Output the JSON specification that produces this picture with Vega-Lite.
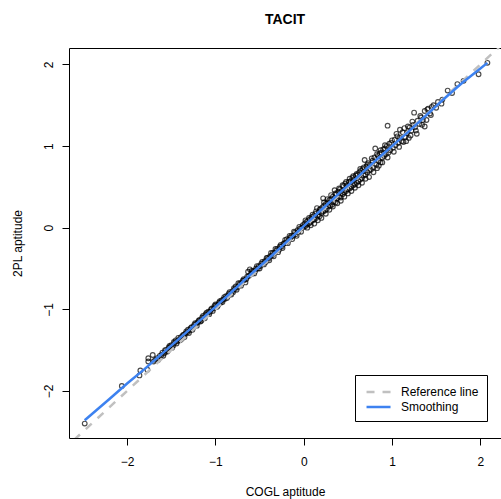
{
  "$schema": "https://vega.github.io/schema/vega-lite/v6.json",
  "autosize": "none",
  "width": 432,
  "height": 390,
  "padding": {"left": 69, "top": 48, "right": 0, "bottom": 61},
  "background": "white",
  "config": {
    "view": {"stroke": null},
    "font": "Liberation Sans",
    "axis": {"grid": false, "domainColor": "black", "tickColor": "black", "labelColor": "black", "titleColor": "black", "labelFont": "Liberation Sans", "titleFont": "Liberation Sans", "labelFontSize": 12, "titleFontSize": 12, "titleFontWeight": "normal"},
    "legend": {"strokeColor": "black"}
  },
  "title": {"text": "TACIT", "frame": "group", "anchor": "middle", "font": "Liberation Sans", "fontSize": 14, "fontWeight": "bold", "color": "black", "baseline": "alphabetic", "offset": 10.5},
  "datasets": {
    "pts": [
      {"x": -2.48, "y": -2.40}, {"x": -2.06, "y": -1.94}, {"x": -1.86, "y": -1.81}, {"x": -1.85, "y": -1.75}, {"x": -1.77, "y": -1.74}, {"x": -1.76, "y": -1.64}, {"x": -1.76, "y": -1.60}, {"x": -1.71, "y": -1.56},
      {"x": -1.70, "y": -1.64}, {"x": -1.68, "y": -1.62}, {"x": -1.66, "y": -1.60}, {"x": -1.65, "y": -1.62}, {"x": -1.63, "y": -1.57}, {"x": -1.61, "y": -1.56}, {"x": -1.60, "y": -1.53}, {"x": -1.58, "y": -1.54},
      {"x": -1.56, "y": -1.50}, {"x": -1.55, "y": -1.52}, {"x": -1.53, "y": -1.47}, {"x": -1.51, "y": -1.46}, {"x": -1.50, "y": -1.44}, {"x": -1.48, "y": -1.45}, {"x": -1.46, "y": -1.41}, {"x": -1.45, "y": -1.38},
      {"x": -1.43, "y": -1.39}, {"x": -1.41, "y": -1.37}, {"x": -1.39, "y": -1.34}, {"x": -1.38, "y": -1.36}, {"x": -1.36, "y": -1.31}, {"x": -1.34, "y": -1.30}, {"x": -1.32, "y": -1.28}, {"x": -1.31, "y": -1.25},
      {"x": -1.29, "y": -1.26}, {"x": -1.27, "y": -1.22}, {"x": -1.25, "y": -1.22}, {"x": -1.24, "y": -1.19}, {"x": -1.22, "y": -1.18}, {"x": -1.20, "y": -1.16}, {"x": -1.18, "y": -1.13}, {"x": -1.17, "y": -1.15},
      {"x": -1.15, "y": -1.10}, {"x": -1.13, "y": -1.10}, {"x": -1.11, "y": -1.06}, {"x": -1.09, "y": -1.06}, {"x": -1.08, "y": -1.03}, {"x": -1.06, "y": -1.03}, {"x": -1.04, "y": -0.99}, {"x": -1.02, "y": -0.99},
      {"x": -1.01, "y": -0.96}, {"x": -0.99, "y": -0.95}, {"x": -0.97, "y": -0.95}, {"x": -0.96, "y": -0.92}, {"x": -0.94, "y": -0.92}, {"x": -0.93, "y": -0.89}, {"x": -0.91, "y": -0.88}, {"x": -0.89, "y": -0.87},
      {"x": -0.88, "y": -0.84}, {"x": -0.86, "y": -0.84}, {"x": -0.85, "y": -0.81}, {"x": -0.83, "y": -0.81}, {"x": -0.81, "y": -0.78}, {"x": -0.80, "y": -0.79}, {"x": -0.78, "y": -0.75}, {"x": -0.77, "y": -0.72},
      {"x": -0.75, "y": -0.73}, {"x": -0.73, "y": -0.70}, {"x": -0.72, "y": -0.68}, {"x": -0.70, "y": -0.68}, {"x": -0.69, "y": -0.65}, {"x": -0.67, "y": -0.64}, {"x": -0.65, "y": -0.63}, {"x": -0.64, "y": -0.60},
      {"x": -0.63, "y": -0.54}, {"x": -0.61, "y": -0.51}, {"x": -0.62, "y": -0.59}, {"x": -0.60, "y": -0.57}, {"x": -0.58, "y": -0.56}, {"x": -0.57, "y": -0.53}, {"x": -0.55, "y": -0.53}, {"x": -0.54, "y": -0.50},
      {"x": -0.52, "y": -0.50}, {"x": -0.51, "y": -0.47}, {"x": -0.49, "y": -0.47}, {"x": -0.48, "y": -0.44}, {"x": -0.46, "y": -0.44}, {"x": -0.44, "y": -0.41}, {"x": -0.43, "y": -0.42}, {"x": -0.41, "y": -0.37},
      {"x": -0.40, "y": -0.38}, {"x": -0.38, "y": -0.35}, {"x": -0.36, "y": -0.34}, {"x": -0.35, "y": -0.31}, {"x": -0.33, "y": -0.31}, {"x": -0.31, "y": -0.28}, {"x": -0.30, "y": -0.26}, {"x": -0.28, "y": -0.27},
      {"x": -0.27, "y": -0.23}, {"x": -0.25, "y": -0.23}, {"x": -0.23, "y": -0.20}, {"x": -0.22, "y": -0.19}, {"x": -0.20, "y": -0.18}, {"x": -0.19, "y": -0.14}, {"x": -0.17, "y": -0.15}, {"x": -0.15, "y": -0.12},
      {"x": -0.14, "y": -0.10}, {"x": -0.12, "y": -0.10}, {"x": -0.10, "y": -0.06}, {"x": -0.09, "y": -0.08}, {"x": -0.07, "y": -0.03}, {"x": -0.06, "y": -0.05}, {"x": -0.04, "y": -0.01}, {"x": -0.02, "y": 0.00},
      {"x": -0.01, "y": 0.03}, {"x": 0.00, "y": 0.01}, {"x": 0.01, "y": 0.05}, {"x": 0.02, "y": 0.02}, {"x": 0.03, "y": 0.07}, {"x": 0.04, "y": 0.04}, {"x": 0.05, "y": 0.09}, {"x": 0.06, "y": 0.05},
      {"x": 0.07, "y": 0.10}, {"x": 0.08, "y": 0.07}, {"x": 0.09, "y": 0.13}, {"x": 0.10, "y": 0.09}, {"x": 0.11, "y": 0.14}, {"x": 0.12, "y": 0.10}, {"x": 0.13, "y": 0.17}, {"x": 0.14, "y": 0.12},
      {"x": 0.15, "y": 0.24}, {"x": 0.16, "y": 0.15}, {"x": 0.17, "y": 0.19}, {"x": 0.18, "y": 0.14}, {"x": 0.19, "y": 0.23}, {"x": 0.20, "y": 0.18}, {"x": 0.21, "y": 0.25}, {"x": 0.22, "y": 0.36},
      {"x": 0.22, "y": 0.20}, {"x": 0.23, "y": 0.27}, {"x": 0.24, "y": 0.21}, {"x": 0.25, "y": 0.29}, {"x": 0.26, "y": 0.23}, {"x": 0.27, "y": 0.31}, {"x": 0.28, "y": 0.26}, {"x": 0.29, "y": 0.34},
      {"x": 0.30, "y": 0.27}, {"x": 0.31, "y": 0.35}, {"x": 0.32, "y": 0.28}, {"x": 0.33, "y": 0.38}, {"x": 0.34, "y": 0.32}, {"x": 0.35, "y": 0.46}, {"x": 0.35, "y": 0.36}, {"x": 0.36, "y": 0.31},
      {"x": 0.37, "y": 0.41}, {"x": 0.38, "y": 0.36}, {"x": 0.39, "y": 0.44}, {"x": 0.40, "y": 0.38}, {"x": 0.41, "y": 0.47}, {"x": 0.42, "y": 0.37}, {"x": 0.43, "y": 0.45}, {"x": 0.44, "y": 0.41},
      {"x": 0.45, "y": 0.51}, {"x": 0.46, "y": 0.43}, {"x": 0.47, "y": 0.54}, {"x": 0.48, "y": 0.45}, {"x": 0.49, "y": 0.52}, {"x": 0.50, "y": 0.47}, {"x": 0.51, "y": 0.56}, {"x": 0.52, "y": 0.48},
      {"x": 0.53, "y": 0.57}, {"x": 0.54, "y": 0.50}, {"x": 0.55, "y": 0.61}, {"x": 0.56, "y": 0.52}, {"x": 0.57, "y": 0.59}, {"x": 0.58, "y": 0.53}, {"x": 0.59, "y": 0.64}, {"x": 0.60, "y": 0.55},
      {"x": 0.61, "y": 0.65}, {"x": 0.62, "y": 0.57}, {"x": 0.63, "y": 0.68}, {"x": 0.64, "y": 0.59}, {"x": 0.65, "y": 0.70}, {"x": 0.66, "y": 0.61}, {"x": 0.67, "y": 0.72}, {"x": 0.68, "y": 0.64},
      {"x": 0.69, "y": 0.83}, {"x": 0.70, "y": 0.65}, {"x": 0.71, "y": 0.75}, {"x": 0.72, "y": 0.68}, {"x": 0.73, "y": 0.79}, {"x": 0.74, "y": 0.70}, {"x": 0.75, "y": 0.77}, {"x": 0.76, "y": 0.71},
      {"x": 0.78, "y": 0.82}, {"x": 0.79, "y": 0.74}, {"x": 0.80, "y": 0.86}, {"x": 0.81, "y": 0.97}, {"x": 0.82, "y": 0.77}, {"x": 0.83, "y": 0.73}, {"x": 0.84, "y": 0.88}, {"x": 0.85, "y": 0.82},
      {"x": 0.86, "y": 0.91}, {"x": 0.87, "y": 0.80}, {"x": 0.88, "y": 0.92}, {"x": 0.89, "y": 0.86}, {"x": 0.90, "y": 0.96}, {"x": 0.91, "y": 0.88}, {"x": 0.92, "y": 0.97}, {"x": 0.93, "y": 0.90},
      {"x": 0.95, "y": 1.25}, {"x": 0.94, "y": 1.00}, {"x": 0.96, "y": 0.92}, {"x": 0.97, "y": 1.03}, {"x": 0.98, "y": 0.95}, {"x": 1.00, "y": 1.07}, {"x": 1.01, "y": 0.98}, {"x": 1.03, "y": 1.08},
      {"x": 1.04, "y": 1.01}, {"x": 1.06, "y": 1.12}, {"x": 1.07, "y": 1.04}, {"x": 1.09, "y": 1.20}, {"x": 1.09, "y": 1.10}, {"x": 1.11, "y": 1.06}, {"x": 1.13, "y": 1.05}, {"x": 1.14, "y": 1.22},
      {"x": 1.15, "y": 1.11}, {"x": 1.17, "y": 1.16}, {"x": 1.19, "y": 1.10}, {"x": 1.20, "y": 1.23}, {"x": 1.22, "y": 1.19}, {"x": 1.24, "y": 1.26}, {"x": 1.25, "y": 1.41}, {"x": 1.26, "y": 1.23},
      {"x": 1.28, "y": 1.15}, {"x": 1.29, "y": 1.31}, {"x": 1.31, "y": 1.27}, {"x": 1.33, "y": 1.35}, {"x": 1.35, "y": 1.32}, {"x": 1.37, "y": 1.43}, {"x": 1.37, "y": 1.24}, {"x": 1.39, "y": 1.32},
      {"x": 1.41, "y": 1.46}, {"x": 1.43, "y": 1.40}, {"x": 1.45, "y": 1.48}, {"x": 1.47, "y": 1.50}, {"x": 1.50, "y": 1.47}, {"x": 1.52, "y": 1.54}, {"x": 1.56, "y": 1.52}, {"x": 1.57, "y": 1.57},
      {"x": 1.63, "y": 1.68}, {"x": 1.68, "y": 1.65}, {"x": 1.74, "y": 1.76}, {"x": 1.81, "y": 1.80}, {"x": 1.98, "y": 1.88}, {"x": 2.08, "y": 2.02},
      {"x": -1.59, "y": -1.57}, {"x": -1.57, "y": -1.50}, {"x": -1.54, "y": -1.51}, {"x": -1.52, "y": -1.45}, {"x": -1.49, "y": -1.47}, {"x": -1.47, "y": -1.40}, {"x": -1.44, "y": -1.42}, {"x": -1.42, "y": -1.35},
      {"x": -1.40, "y": -1.38}, {"x": -1.37, "y": -1.32}, {"x": -1.35, "y": -1.34}, {"x": -1.33, "y": -1.27}, {"x": -1.30, "y": -1.29}, {"x": -1.28, "y": -1.23}, {"x": -1.26, "y": -1.25}, {"x": -1.23, "y": -1.17},
      {"x": -1.21, "y": -1.20}, {"x": -1.19, "y": -1.14}, {"x": -1.16, "y": -1.14}, {"x": -1.14, "y": -1.08}, {"x": -1.12, "y": -1.11}, {"x": -1.10, "y": -1.04}, {"x": -1.07, "y": -1.06}, {"x": -1.05, "y": -1.00},
      {"x": -1.03, "y": -1.02}, {"x": -1.00, "y": -0.94}, {"x": -0.98, "y": -0.97}, {"x": -0.95, "y": -0.90}, {"x": -0.92, "y": -0.91}, {"x": -0.90, "y": -0.85}, {"x": -0.87, "y": -0.86}, {"x": -0.84, "y": -0.79},
      {"x": -0.82, "y": -0.82}, {"x": -0.79, "y": -0.74}, {"x": -0.76, "y": -0.76}, {"x": -0.74, "y": -0.68}, {"x": -0.71, "y": -0.71}, {"x": -0.68, "y": -0.63}, {"x": -0.66, "y": -0.67}, {"x": -0.59, "y": -0.53},
      {"x": -0.56, "y": -0.56}, {"x": -0.53, "y": -0.47}, {"x": -0.50, "y": -0.50}, {"x": -0.47, "y": -0.42}, {"x": -0.45, "y": -0.45}, {"x": -0.42, "y": -0.37}, {"x": -0.39, "y": -0.40}, {"x": -0.37, "y": -0.31},
      {"x": -0.34, "y": -0.35}, {"x": -0.32, "y": -0.26}, {"x": -0.29, "y": -0.30}, {"x": -0.26, "y": -0.21}, {"x": -0.24, "y": -0.25}, {"x": -0.21, "y": -0.15}, {"x": -0.18, "y": -0.19}, {"x": -0.16, "y": -0.10},
      {"x": -0.13, "y": -0.14}, {"x": -0.11, "y": -0.05}, {"x": -0.08, "y": -0.10}, {"x": -0.05, "y": 0.01}, {"x": -0.03, "y": -0.05},
      {"x": 0.02, "y": 0.09}, {"x": 0.04, "y": 0.00}, {"x": 0.06, "y": 0.12}, {"x": 0.08, "y": 0.03}, {"x": 0.10, "y": 0.16}, {"x": 0.12, "y": 0.05}, {"x": 0.14, "y": 0.20}, {"x": 0.16, "y": 0.09},
      {"x": 0.18, "y": 0.22}, {"x": 0.20, "y": 0.12}, {"x": 0.23, "y": 0.31}, {"x": 0.25, "y": 0.17}, {"x": 0.27, "y": 0.35}, {"x": 0.29, "y": 0.22}, {"x": 0.31, "y": 0.40}, {"x": 0.33, "y": 0.26},
      {"x": 0.36, "y": 0.42}, {"x": 0.38, "y": 0.30}, {"x": 0.40, "y": 0.48}, {"x": 0.42, "y": 0.33}, {"x": 0.44, "y": 0.52}, {"x": 0.46, "y": 0.38}, {"x": 0.48, "y": 0.56}, {"x": 0.50, "y": 0.42},
      {"x": 0.52, "y": 0.60}, {"x": 0.54, "y": 0.45}, {"x": 0.56, "y": 0.63}, {"x": 0.58, "y": 0.49}, {"x": 0.60, "y": 0.66}, {"x": 0.62, "y": 0.52}, {"x": 0.64, "y": 0.72}, {"x": 0.66, "y": 0.55},
      {"x": 0.68, "y": 0.74}, {"x": 0.70, "y": 0.60}, {"x": 0.72, "y": 0.77}, {"x": 0.74, "y": 0.62}, {"x": 0.77, "y": 0.85}, {"x": 0.79, "y": 0.68}, {"x": 0.83, "y": 0.90}, {"x": 0.85, "y": 0.76},
      {"x": 0.87, "y": 0.95}, {"x": 0.89, "y": 0.80}, {"x": 0.92, "y": 1.01}, {"x": 0.95, "y": 0.86}, {"x": 0.99, "y": 1.04}, {"x": 1.02, "y": 0.93}, {"x": 1.05, "y": 1.15}, {"x": 1.08, "y": 0.99},
      {"x": 1.12, "y": 1.17}, {"x": 1.16, "y": 1.06}, {"x": 1.18, "y": 1.24}, {"x": 1.21, "y": 1.13}, {"x": 1.23, "y": 1.30}, {"x": 1.27, "y": 1.19}, {"x": 1.32, "y": 1.37}, {"x": 1.34, "y": 1.26},
      {"x": 1.40, "y": 1.45}, {"x": 1.44, "y": 1.38}
    ],
    "lines": [
      {"series": "Reference line", "x": -3, "y": -3}, {"series": "Reference line", "x": 3, "y": 3},
      {"series": "Smoothing", "x": -2.48, "y": -2.36}, {"series": "Smoothing", "x": -2.2, "y": -2.10}, {"series": "Smoothing", "x": -2.0, "y": -1.91},
      {"series": "Smoothing", "x": -1.8, "y": -1.73}, {"series": "Smoothing", "x": -1.6, "y": -1.54}, {"series": "Smoothing", "x": -1.4, "y": -1.35},
      {"series": "Smoothing", "x": -1.2, "y": -1.16}, {"series": "Smoothing", "x": -1.0, "y": -0.97}, {"series": "Smoothing", "x": -0.8, "y": -0.77},
      {"series": "Smoothing", "x": -0.6, "y": -0.57}, {"series": "Smoothing", "x": -0.4, "y": -0.38}, {"series": "Smoothing", "x": -0.2, "y": -0.18},
      {"series": "Smoothing", "x": 0.0, "y": 0.02}, {"series": "Smoothing", "x": 0.2, "y": 0.22}, {"series": "Smoothing", "x": 0.4, "y": 0.42},
      {"series": "Smoothing", "x": 0.6, "y": 0.61}, {"series": "Smoothing", "x": 0.8, "y": 0.81}, {"series": "Smoothing", "x": 1.0, "y": 1.00},
      {"series": "Smoothing", "x": 1.2, "y": 1.19}, {"series": "Smoothing", "x": 1.4, "y": 1.39}, {"series": "Smoothing", "x": 1.6, "y": 1.59},
      {"series": "Smoothing", "x": 1.8, "y": 1.78}, {"series": "Smoothing", "x": 2.0, "y": 1.95}, {"series": "Smoothing", "x": 2.08, "y": 2.02}
    ]
  },
  "layer": [
    {
      "data": {"name": "pts"},
      "mark": {"type": "point", "filled": false, "stroke": "black", "strokeWidth": 1.15, "size": 22},
      "encoding": {
        "x": {"field": "x", "type": "quantitative", "scale": {"domain": [-2.658, 2.234], "nice": false, "zero": false},
              "axis": {"orient": "bottom", "title": "COGL aptitude", "values": [-2, -1, 0, 1, 2], "format": "d", "tickSize": 7, "labelPadding": 11, "domain": true, "titleX": 216, "titleY": 57, "titleBaseline": "alphabetic", "labelFlush": false}},
        "y": {"field": "y", "type": "quantitative", "scale": {"domain": [-2.577, 2.202], "nice": false, "zero": false},
              "axis": {"orient": "left", "title": "2PL aptitude", "values": [-2, -1, 0, 1, 2], "format": "d", "tickSize": 7, "labelPadding": 10, "labelAngle": -90, "labelAlign": "center", "labelBaseline": "alphabetic", "domain": true, "titleX": -47.5, "titleY": 195, "titleAngle": -90, "titleBaseline": "alphabetic", "titleAlign": "center", "labelFlush": false}}
      }
    },
    {
      "data": {"name": "lines"},
      "mark": {"type": "line", "clip": true, "strokeWidth": 2.5},
      "encoding": {
        "x": {"field": "x", "type": "quantitative", "scale": {"domain": [-2.658, 2.234], "nice": false, "zero": false},
              "axis": {"orient": "top", "title": null, "labels": false, "ticks": false, "domain": true}},
        "y": {"field": "y", "type": "quantitative"},
        "color": {"field": "series", "type": "nominal", "scale": {"domain": ["Reference line", "Smoothing"], "range": ["#c0c0c0", "#3d82f0"]},
                  "legend": {"orient": "none", "legendX": 286, "legendY": 327, "title": null, "fillColor": "white", "padding": 8, "rowPadding": 0, "symbolType": "M-0.73,0H2.47", "symbolSize": 225, "symbolStrokeWidth": 2.5, "labelOffset": 20, "labelFontSize": 12, "labelFont": "Liberation Sans", "labelColor": "black", "labelLimit": 300}},
        "strokeDash": {"field": "series", "type": "nominal", "scale": {"domain": ["Reference line", "Smoothing"], "range": [[8, 8], [100, 0]]}}
      }
    }
  ],
  "resolve": {"axis": {"x": "independent"}}
}
